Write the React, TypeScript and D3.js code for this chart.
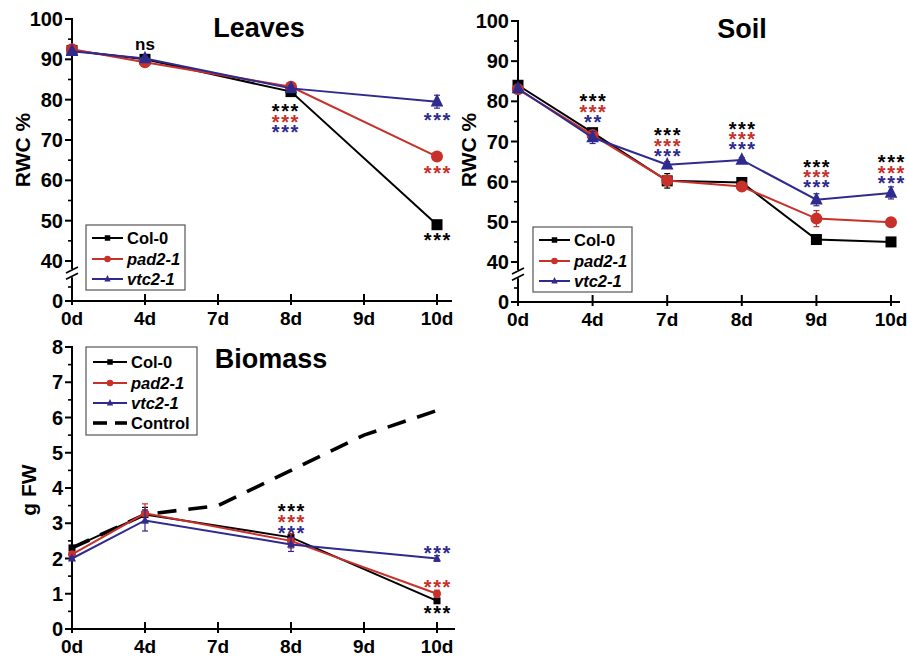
import React from "react";
import * as d3 from "d3";

// categories
const days = ["0d", "4d", "7d", "8d", "9d", "10d"];
const sparseDays = ["0d", "4d", "8d", "10d"];

// Leaves RWC %
const leavesCol0 = [92.2, 90.0, 82.0, 49.0];
const leavesCol0Err = [0.5, 0.5, 0.6, 0.8];
const leavesPad2 = [92.5, 89.3, 83.2, 65.9];
const leavesPad2Err = [0.5, 0.6, 0.6, 0.8];
const leavesVtc2 = [92.0, 90.2, 82.8, 79.5];
const leavesVtc2Err = [0.4, 0.5, 0.6, 1.6];

// Soil RWC %
const soilCol0 = [84.0, 72.2, 60.2, 59.8, 45.6, 45.0];
const soilCol0Err = [0.8, 1.0, 1.8, 0.5, 0.5, 0.5];
const soilPad2 = [83.0, 71.6, 60.3, 58.8, 50.8, 49.9];
const soilPad2Err = [0.5, 1.0, 1.0, 0.6, 2.0, 0.5];
const soilVtc2 = [83.2, 71.0, 64.2, 65.4, 55.5, 57.2];
const soilVtc2Err = [0.6, 1.5, 0.8, 0.6, 1.5, 1.5];

// Biomass g FW
const bioCol0 = [2.3, 3.25, 2.6, 0.8];
const bioCol0Err = [0.05, 0.2, 0.1, 0.05];
const bioPad2 = [2.12, 3.28, 2.5, 1.0];
const bioPad2Err = [0.05, 0.27, 0.2, 0.1];
const bioVtc2 = [2.0, 3.08, 2.4, 2.0];
const bioVtc2Err = [0.05, 0.3, 0.2, 0.08];
const bioControl = [2.3, 3.25, 3.5, 4.5, 5.5, 6.2];

// significance labels: [day, label, color key, y value]
type Star = [string, string, string, number];
const leavesStars: Star[] = [
  ["4d", "ns", "k", 93.6],
  ["8d", "***", "k", 78.4], ["8d", "***", "r", 75.7], ["8d", "***", "b", 73.2],
  ["10d", "***", "b", 76.0], ["10d", "***", "r", 63.0], ["10d", "***", "k", 46.2],
];
const soilStars: Star[] = [
  ["4d", "***", "k", 81.2], ["4d", "***", "r", 78.5], ["4d", "**", "b", 76.0],
  ["7d", "***", "k", 72.8], ["7d", "***", "r", 70.1], ["7d", "***", "b", 67.6],
  ["8d", "***", "k", 74.3], ["8d", "***", "r", 71.8], ["8d", "***", "b", 69.3],
  ["9d", "***", "k", 64.8], ["9d", "***", "r", 62.3], ["9d", "***", "b", 59.9],
  ["10d", "***", "k", 66.0], ["10d", "***", "r", 63.4], ["10d", "***", "b", 60.9],
];
const bioStars: Star[] = [
  ["8d", "***", "k", 3.47], ["8d", "***", "r", 3.15], ["8d", "***", "b", 2.84],
  ["10d", "***", "b", 2.27], ["10d", "***", "r", 1.31], ["10d", "***", "k", 0.57],
];

const colors: Record<string, string> = { k: "#000000", r: "#c8302a", b: "#2f2a8e" };
const FONT = "'Liberation Sans', Arial, Helvetica, sans-serif";

type Shape = "square" | "circle" | "triangle";

function marker(shape: Shape, x: number, y: number, s: number, color: string, key?: string) {
  if (shape === "square")
    return <rect key={key} x={x - s / 2} y={y - s / 2} width={s} height={s} fill={color} />;
  if (shape === "circle") return <circle key={key} cx={x} cy={y} r={s / 2 + 0.5} fill={color} />;
  const t = s * 1.15;
  return (
    <path key={key} d={`M${x},${y - t * 0.62}L${x - t / 2},${y + t * 0.38}L${x + t / 2},${y + t * 0.38}Z`} fill={color} />
  );
}

type Series = { name: string; c: string; shape: Shape; x: string[]; v: number[]; e: number[] };

function Panel(props: {
  title: string; titleX: number; titleY: number;
  ax: number; x1: number; axisEnd: number; yTop: number; yBottom: number;
  broken: boolean; yLabel: string; yLabelX: number; yLabelY: number;
  series: Series[]; stars: Star[]; starShift?: Record<string, number>;
  ms: number; lw: number; control?: number[];
  legend: { x: number; y: number; w: number; h: number; rows: number[]; textX: number; lx0: number; lx1: number };
}) {
  const p = props;
  const x = d3.scalePoint<string>().domain(days).range([p.ax, p.x1]);
  // y scale: upper part (possibly broken) and lower part
  const yUp = p.broken
    ? d3.scaleLinear().domain([40, 100]).range([p.yBottom - 40, p.yTop])
    : d3.scaleLinear().domain([0, 8]).range([p.yBottom, p.yTop]);
  const yLo = d3.scaleLinear().domain([0, 10]).range([p.yBottom, p.yBottom - 28]);
  const y = (v: number) => (p.broken && v < 40 ? yLo(v) : yUp(v));

  const majors = p.broken ? d3.range(40, 101, 10) : d3.range(0, 8.01, 1);
  const minors = p.broken ? d3.range(45, 100, 10) : d3.range(0.5, 8, 1);

  const line = d3.line<[string, number]>().x((d) => x(d[0])!).y((d) => y(d[1]));
  const els: React.ReactNode[] = [];

  // axes
  const axW = 2;
  if (p.broken) {
    els.push(<line key="ya1" x1={p.ax} x2={p.ax} y1={yUp(100) - 1} y2={yUp(38)} stroke="#000" strokeWidth={axW} />);
    els.push(<line key="ya2" x1={p.ax} x2={p.ax} y1={yLo(8.5)} y2={p.yBottom} stroke="#000" strokeWidth={axW} />);
    [yUp(38) + 1, yLo(8.5) - 1].forEach((yb, i) =>
      els.push(<line key={"brk" + i} x1={p.ax - 6} x2={p.ax + 6} y1={yb + 3} y2={yb - 3} stroke="#000" strokeWidth={1.6} />)
    );
    els.push(<line key="lm" x1={p.ax - 4} x2={p.ax} y1={yLo(5)} y2={yLo(5)} stroke="#000" strokeWidth={1.6} />);
    els.push(<line key="l0" x1={p.ax - 7} x2={p.ax + 1} y1={yLo(0)} y2={yLo(0)} stroke="#000" strokeWidth={axW} />);
    els.push(
      <text key="l0t" x={p.ax - 9} y={yLo(0) + 7} textAnchor="end" fontSize={20} fontWeight="bold">0</text>
    );
  } else {
    els.push(<line key="ya" x1={p.ax} x2={p.ax} y1={p.yTop - 1} y2={p.yBottom} stroke="#000" strokeWidth={axW} />);
  }
  majors.forEach((m) => {
    els.push(<line key={"mj" + m} x1={p.ax - 7} x2={p.ax + 1} y1={yUp(m)} y2={yUp(m)} stroke="#000" strokeWidth={axW} />);
    els.push(
      <text key={"mt" + m} x={p.ax - 9} y={yUp(m) + 7} textAnchor="end" fontSize={20} fontWeight="bold">{m}</text>
    );
  });
  minors.forEach((m) =>
    els.push(<line key={"mn" + m} x1={p.ax - 4} x2={p.ax} y1={yUp(m)} y2={yUp(m)} stroke="#000" strokeWidth={1.6} />)
  );
  els.push(<line key="xa" x1={p.ax - 1} x2={p.axisEnd} y1={p.yBottom} y2={p.yBottom} stroke="#000" strokeWidth={axW} />);
  days.forEach((d) => {
    els.push(<line key={"xt" + d} x1={x(d)} x2={x(d)} y1={p.yBottom - 7} y2={p.yBottom + 4} stroke="#000" strokeWidth={axW} />);
    els.push(
      <text key={"xl" + d} x={x(d)} y={p.yBottom + 24} textAnchor="middle" fontSize={19} fontWeight="bold">{d}</text>
    );
  });
  els.push(
    <text key="yl" transform={`translate(${p.yLabelX},${p.yLabelY}) rotate(-90)`}
      textAnchor="middle" fontSize={21} fontWeight="bold">{p.yLabel}</text>
  );
  els.push(
    <text key="title" x={p.titleX} y={p.titleY} textAnchor="middle" fontSize={27} fontWeight="bold">{p.title}</text>
  );

  // control dashed line
  if (p.control) {
    els.push(
      <path key="ctrl" d={line(days.map((d, i) => [d, p.control![i]]))!} fill="none" stroke="#000"
        strokeWidth={3.6} strokeDasharray="19,12" />
    );
  }

  // series
  p.series.forEach((s) => {
    els.push(<path key={"ln" + s.name} d={line(s.x.map((d, i) => [d, s.v[i]]))!} fill="none" stroke={s.c} strokeWidth={p.lw} />);
    s.x.forEach((d, i) => {
      const cx = x(d)!;
      const top = y(s.v[i] + s.e[i]);
      const bot = y(s.v[i] - s.e[i]);
      els.push(
        <g key={"eb" + s.name + d} stroke={s.c} strokeWidth={1.2}>
          <line x1={cx} x2={cx} y1={top} y2={bot} />
          <line x1={cx - 3} x2={cx + 3} y1={top} y2={top} />
          <line x1={cx - 3} x2={cx + 3} y1={bot} y2={bot} />
        </g>
      );
      els.push(marker(s.shape, cx, y(s.v[i]), p.ms, s.c, "mk" + s.name + d));
    });
  });

  // significance
  p.stars.forEach(([d, lab, c, v], i) => {
    const isStar = lab.includes("*");
    const dx = (p.starShift && p.starShift[d]) || 0;
    els.push(
      <text key={"st" + i} x={x(d)! + dx + (isStar ? 0.8 : 0)} y={y(v) + (isStar ? 11.5 : 5)} textAnchor="middle"
        fontSize={isStar ? 20 : 17} fontWeight="bold" fill={colors[c]} letterSpacing={isStar ? 1.5 : 0}>{lab}</text>
    );
  });

  // legend
  const L = p.legend;
  els.push(<rect key="lgb" x={L.x} y={L.y} width={L.w} height={L.h} fill="#fff" stroke="#555" strokeWidth={1.2} />);
  const entries: { name: string; c: string; shape?: Shape; italic: boolean; dash?: boolean }[] = [
    ...p.series.map((s) => ({ name: s.name, c: s.c, shape: s.shape, italic: s.name !== "Col-0" })),
  ];
  if (p.control) entries.push({ name: "Control", c: "#000", italic: false, dash: true });
  entries.forEach((en, i) => {
    const ly = L.rows[i];
    const mx = (L.lx0 + L.lx1) / 2;
    if (en.dash) {
      els.push(<line key={"lgd1" + i} x1={L.lx0} x2={L.lx0 + 14} y1={ly} y2={ly} stroke="#000" strokeWidth={3.6} />);
      els.push(<line key={"lgd2" + i} x1={L.lx1 - 12} x2={L.lx1} y1={ly} y2={ly} stroke="#000" strokeWidth={3.6} />);
    } else {
      els.push(<line key={"lgl" + i} x1={L.lx0} x2={L.lx1} y1={ly} y2={ly} stroke={en.c} strokeWidth={2} />);
      els.push(marker(en.shape!, mx, ly, 5.5, en.c, "lgm" + i));
    }
    els.push(
      <text key={"lgt" + i} x={L.textX} y={ly + 6} fontSize={16.5} fontWeight="bold"
        fontStyle={en.italic ? "italic" : "normal"}>{en.name}</text>
    );
  });

  return <g>{els}</g>;
}

export default function App() {
  const mk = (c0: number[], e0: number[], p2: number[], e2: number[], v2: number[], ev: number[], xs: string[]): Series[] => [
    { name: "Col-0", c: colors.k, shape: "square", x: xs, v: c0, e: e0 },
    { name: "pad2-1", c: colors.r, shape: "circle", x: xs, v: p2, e: e2 },
    { name: "vtc2-1", c: colors.b, shape: "triangle", x: xs, v: v2, e: ev },
  ];
  return (
    <div style={{ position: "absolute", left: 0, top: 0 }}>
      <svg width={907} height={659} fontFamily={FONT} style={{ display: "block", background: "#fff" }}>
        <Panel title="Leaves" titleX={259} titleY={37} ax={72} x1={437} axisEnd={452} yTop={19} yBottom={301}
          broken yLabel="RWC %" yLabelX={30} yLabelY={150} ms={11} lw={2}
          series={mk(leavesCol0, leavesCol0Err, leavesPad2, leavesPad2Err, leavesVtc2, leavesVtc2Err, sparseDays)}
          stars={leavesStars} starShift={{ "8d": -6 }}
          legend={{ x: 86, y: 225, w: 99, h: 65, rows: [238, 259, 279], textX: 127, lx0: 92, lx1: 123 }} />
        <Panel title="Soil" titleX={742} titleY={38} ax={518} x1={891} axisEnd={900} yTop={21} yBottom={302}
          broken yLabel="RWC %" yLabelX={476} yLabelY={150} ms={11} lw={2}
          series={mk(soilCol0, soilCol0Err, soilPad2, soilPad2Err, soilVtc2, soilVtc2Err, days)}
          stars={soilStars}
          legend={{ x: 533, y: 227, w: 99, h: 65, rows: [240, 261, 281], textX: 574, lx0: 539, lx1: 570 }} />
        <Panel title="Biomass" titleX={271} titleY={368} ax={72} x1={437} axisEnd={455} yTop={347} yBottom={629}
          broken={false} yLabel="g FW" yLabelX={36} yLabelY={490} ms={7} lw={2}
          series={mk(bioCol0, bioCol0Err, bioPad2, bioPad2Err, bioVtc2, bioVtc2Err, sparseDays)}
          stars={bioStars} control={bioControl}
          legend={{ x: 86, y: 347, w: 111, h: 88, rows: [362, 383, 403, 423], textX: 131, lx0: 93, lx1: 127 }} />
      </svg>
    </div>
  );
}
